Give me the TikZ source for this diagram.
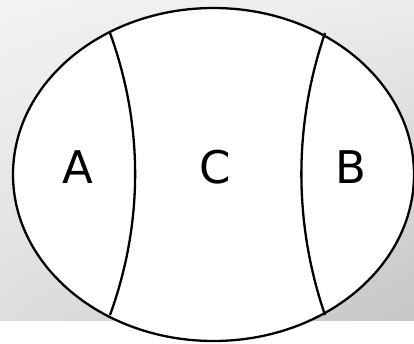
\documentclass[tikz,border=0pt]{standalone}
\usepackage{fontspec}
\setmainfont{DejaVu Sans}
\usetikzlibrary{shadings,shapes.geometric}
\definecolor{bgul}{RGB}{243,243,243}
\definecolor{bgur}{RGB}{236,236,236}
\definecolor{bgll}{RGB}{222,222,222}
\definecolor{bglr}{RGB}{198,198,198}
\begin{document}
\begin{tikzpicture}[x=1pt,y=-1pt,
  outline/.style={draw=black,line width=2.3pt},
  regionlabel/.style={font=\fontsize{45}{45}\selectfont,inner sep=0pt,anchor=base}]
\useasboundingbox (0,0) rectangle (414,343);
\fill[white] (0,0) rectangle (414,343);
\shade[upper left=bgul,upper right=bgur,lower left=bgll,lower right=bglr]
  (0,0) rectangle (414,320);
\node[outline,fill=white,ellipse,minimum width=401pt,minimum height=333pt,inner sep=0pt] (e) at (213.5,174.5) {};
\coordinate (lt) at (110,33);
\coordinate (lb) at (110,315);
\coordinate (rt) at (325,33);
\coordinate (rb) at (325,315);
\draw[outline] (lt) .. controls (143.5,125) and (143.5,223) .. (lb);
\draw[outline] (rt) .. controls (293.5,125) and (293.5,223) .. (rb);
\node[regionlabel] (A) at (78,183) {A};
\node[regionlabel] (C) at (215,183) {C};
\node[regionlabel] (B) at (351,183) {B};
\end{tikzpicture}
\end{document}
